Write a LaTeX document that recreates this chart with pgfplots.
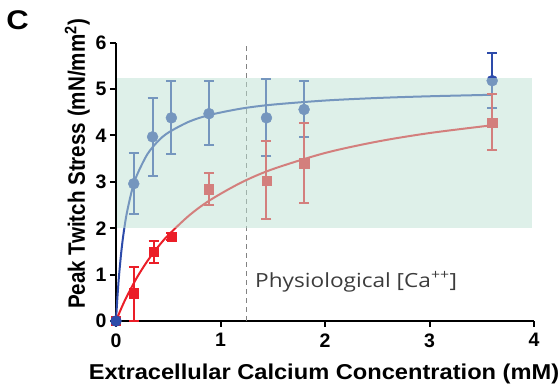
\documentclass[border=0pt]{standalone}
\usepackage{pgfplots}
\pgfplotsset{compat=1.18}
\usepackage{fontspec}
\setmainfont{Liberation Sans}
\newfontfamily\physfont{Open Sans}
\definecolor{dblue}{RGB}{45,75,170}
\definecolor{dred}{RGB}{235,30,40}
\definecolor{mint}{RGB}{189,225,211}
\definecolor{dgray}{RGB}{130,130,130}
\begin{document}
\begin{tikzpicture}
\path (-116pt,-66pt) rectangle (444pt,321pt);
\begin{axis}[
  set layers=standard,
  scale only axis, width=418pt, height=278.3pt,
  xmin=0, xmax=4, ymin=0, ymax=6,
  axis x line*=bottom, axis y line*=left,
  axis line style={line width=2.2pt},
  xtick={0,1,2,3,4}, ytick={0,1,2,3,4,5,6},
  tick align=outside, major tick length=6pt,
  every tick/.style={black, line width=2pt},
  /pgf/number format/assume math mode=true,
  ticklabel style={font=\bfseries\fontsize{19.5}{19.5}\selectfont},
  xticklabel shift=3pt,
  clip=false,
  error bars/error bar style={line width=2pt},
  error bars/error mark options={rotate=90, mark size=5pt, line width=2pt},
]
% fit curves
\addplot[dblue, line width=2pt, smooth] coordinates {
 (0,0) (0.01,0.386) (0.02,0.717) (0.03,1.004) (0.05,1.477) (0.07,1.851) (0.1,2.285)
 (0.15,2.794) (0.2,3.144) (0.3,3.595) (0.4,3.872) (0.5,4.061) (0.7,4.299)
 (0.9,4.444) (1.2,4.580) (1.5,4.665) (2,4.753) (2.5,4.808) (3,4.845) (3.6,4.877)};
\addplot[dred, line width=2pt, smooth] coordinates {
 (0,0) (0.05,0.270) (0.1,0.513) (0.2,0.936) (0.3,1.291) (0.4,1.592) (0.5,1.851)
 (0.7,2.275) (0.9,2.606) (1.2,2.987) (1.5,3.274) (2,3.622) (2.5,3.868)
 (3,4.052) (3.6,4.220)};
% error bars
\addplot[dblue, only marks, mark=none,
  error bars/.cd, y dir=both, y explicit] table[x=x, y=y, y error plus=ep, y error minus=em] {
x y ep em
0.17 2.96 0.67 0.66
0.35 3.97 0.84 0.85
0.53 4.38 0.79 0.79
0.89 4.47 0.70 0.68
1.44 4.38 0.83 0.82
1.80 4.56 0.61 0.59
3.60 5.18 0.60 0.58
};
\addplot[dred, only marks, mark=none,
  error bars/.cd, y dir=both, y explicit] table[x=x, y=y, y error plus=ep, y error minus=em] {
x y ep em
0.17 0.60 0.57 0.60
0.36 1.49 0.24 0.23
0.53 1.82 0.07 0.07
0.89 2.84 0.36 0.34
1.44 3.02 0.87 0.83
1.80 3.40 0.86 0.86
3.60 4.28 0.61 0.59
};
% markers
\addplot[only marks, mark=square*, mark size=4.6pt, color=dred] table {
0 0
0.17 0.60
0.36 1.49
0.53 1.82
0.89 2.84
1.44 3.02
1.80 3.40
3.60 4.28
};
\addplot[only marks, mark=*, mark size=5.5pt, color=dblue] table {
0 0
0.17 2.96
0.35 3.97
0.53 4.38
0.89 4.47
1.44 4.38
1.80 4.56
3.60 5.18
};
\draw[dgray, line width=1.5pt, dash pattern=on 5pt off 4pt] (axis cs:1.25,0) -- (axis cs:1.25,6);
\begin{pgfonlayer}{axis foreground}
\fill[mint, opacity=0.5] ([xshift=1.1pt]axis cs:0,2) rectangle (axis cs:3.98,5.24);
\end{pgfonlayer}
\node[anchor=base west, xscale=1.16, font=\physfont\fontsize{19.5}{19.5}\selectfont, text={rgb,255:red,60;green,60;blue,60}, inner sep=0pt]
  at (axis cs:1.33,0.73) {Physiological [Ca\textsuperscript{++}]};
\end{axis}
\node[anchor=base, xscale=1.1, inner sep=0pt, font=\bfseries\fontsize{21.5}{21.5}\selectfont] at (208pt,-59pt) {Extracellular Calcium Concentration (mM)};
\node[anchor=base, xscale=1.15, rotate=90, inner sep=0pt, font=\bfseries\fontsize{20.6}{20.6}\selectfont] at (-31pt,157pt) {Peak Twitch Stress (mN/mm\textsuperscript{2})};
\node[xscale=1.15, font=\bfseries\fontsize{27}{27}\selectfont] at (-98.5pt,300.5pt) {C};
\end{tikzpicture}
\end{document}
